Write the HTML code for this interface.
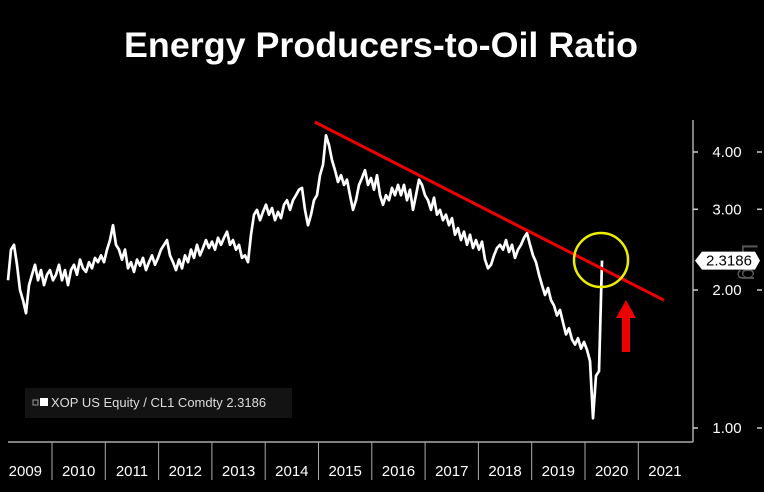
<!DOCTYPE html>
<html><head><meta charset="utf-8"><style>
html,body{margin:0;padding:0;background:#000;}
svg{display:block;font-family:"Liberation Sans",sans-serif;}
</style></head><body>
<svg id="chart" width="764" height="492" viewBox="0 0 764 492">
<rect x="0" y="0" width="764" height="492" fill="#000"/>
<text x="381" y="57" text-anchor="middle" fill="#fff" font-size="35" font-weight="bold" textLength="514" lengthAdjust="spacingAndGlyphs">Energy Producers-to-Oil Ratio</text>
<g id="axes"></g>
<g id="marks"></g>
<g>
<rect x="25" y="388" width="267" height="30" fill="#131313"/>
<rect x="33" y="400" width="5" height="5" fill="none" stroke="#999" stroke-width="1"/>
<rect x="40" y="398" width="8" height="8" fill="#fff"/>
<text x="51" y="407" fill="#ddd" font-size="13">XOP US Equity / CL1 Comdty 2.3186</text>
</g>
</svg>
<script>
const startYear = 2009.174;
const stepYears = 0.05629;
const ratioValues = [2.10,2.45,2.51,2.27,2.00,1.90,1.78,2.05,2.16,2.27,2.10,2.21,2.05,2.16,2.21,2.10,2.16,2.27,2.10,2.21,2.05,2.21,2.27,2.16,2.33,2.23,2.19,2.30,2.23,2.35,2.30,2.38,2.30,2.45,2.57,2.77,2.51,2.45,2.33,2.45,2.23,2.30,2.19,2.33,2.26,2.35,2.21,2.30,2.38,2.27,2.35,2.45,2.51,2.57,2.38,2.30,2.21,2.33,2.23,2.38,2.30,2.45,2.35,2.51,2.38,2.47,2.57,2.47,2.55,2.45,2.60,2.51,2.60,2.68,2.51,2.57,2.45,2.51,2.35,2.38,2.30,2.64,2.92,2.99,2.84,2.96,3.07,2.92,3.02,2.84,2.96,2.87,3.07,3.14,2.99,3.14,3.22,3.31,3.34,2.99,2.77,2.92,3.14,3.22,3.56,3.75,4.35,4.14,3.84,3.65,3.44,3.56,3.39,3.48,3.22,2.99,3.14,3.39,3.51,3.65,3.39,3.51,3.31,3.56,3.22,3.07,3.22,3.14,3.34,3.22,3.39,3.22,3.39,3.14,3.31,2.99,3.22,3.48,3.39,3.22,3.14,2.99,3.18,2.92,2.99,2.84,2.92,2.77,2.87,2.64,2.73,2.57,2.68,2.51,2.64,2.47,2.57,2.45,2.55,2.33,2.23,2.27,2.38,2.47,2.51,2.45,2.57,2.42,2.51,2.35,2.45,2.51,2.60,2.66,2.51,2.38,2.30,2.16,2.05,1.95,2.02,1.90,1.85,1.76,1.81,1.70,1.60,1.65,1.56,1.52,1.57,1.49,1.54,1.48,1.40,1.05,1.30,1.33,2.3186];
const yTicks = [1, 2, 3, 4];
const yTickLabels = ["1.00", "2.00", "3.00", "4.00"];
const years = [2009,2010,2011,2012,2013,2014,2015,2016,2017,2018,2019,2020,2021];
const trendDates = [2014.93, 2021.48];
const trendValues = [4.65, 1.90];
const lastValue = 2.3186;

const NS = "http://www.w3.org/2000/svg";
function X(t){ return 52 + (t - 2010) * 53.3; }
function Y(v){ return 428 - 138 * Math.log2(v); }
function mk(tag, attrs, parent){ const e=document.createElementNS(NS,tag); for(const k in attrs) e.setAttribute(k,attrs[k]); parent.appendChild(e); return e; }
const axes=document.getElementById('axes'), marks=document.getElementById('marks');

let el = mk('line',{x1:8,y1:442,x2:693,y2:442,stroke:'#aaa','stroke-width':1.5},axes);


el = mk('line',{x1:693,y1:120,x2:693,y2:442,stroke:'#aaa','stroke-width':1.5},axes);



years.forEach(function(yr){
  if (yr > 2009) {
    const s = mk('line',{x1:X(yr),y1:442,x2:X(yr),y2:480,stroke:'#aaa','stroke-width':1},axes);
    
    
  }
  const t = mk('text',{x:X(yr+0.5),y:476,fill:'#fff','font-size':15,'text-anchor':'middle'},axes);
  t.textContent = String(yr);
  
  
});

yTicks.forEach(function(v,i){
  const y=Y(v);
  const a = mk('line',{x1:693,y1:y,x2:698,y2:y,stroke:'#ccc','stroke-width':1.5},axes);
  
  
  const b = mk('line',{x1:757,y1:y,x2:762,y2:y,stroke:'#ccc','stroke-width':1.5},axes);
  
  
  const t = mk('text',{x:727,y:y+5,fill:'#fff','font-size':15,'text-anchor':'middle'},axes);
  t.textContent = yTickLabels[i];
  
  
});

const logT = mk('text',{x:0,y:0,fill:'#555','font-size':22,'text-anchor':'middle',transform:'translate(742,262) rotate(90)'},axes);
logT.textContent = 'Log';



let d='';
ratioValues.forEach(function(v,i){ const t=startYear+i*stepYears; d+=(i?'L':'M')+X(t).toFixed(1)+' '+Y(v).toFixed(1); });
el = mk('path',{d:d,fill:'none',stroke:'#fff','stroke-width':2.7,'stroke-linejoin':'round'},marks);



el = mk('line',{x1:X(trendDates[0]),y1:Y(trendValues[0]),x2:X(trendDates[1]),y2:Y(trendValues[1]),stroke:'#e00','stroke-width':3},marks);



const lastX = X(startYear+(ratioValues.length-1)*stepYears);
el = mk('circle',{cx:lastX-1,cy:260,r:27,fill:'none',stroke:'#ee0','stroke-width':2.5},marks);


el = mk('path',{d:'M616 318 L626 300 L636 318 L630 318 L630 352 L622 352 L622 318 Z',fill:'#e00'},marks);



const ly=Y(lastValue);
el = mk('path',{d:'M695 '+ly+' L702 '+(ly-9)+' L755 '+(ly-9)+' L760 '+ly+' L755 '+(ly+9)+' L702 '+(ly+9)+' Z',fill:'#fff'},axes);


el = mk('text',{x:729,y:ly+5,fill:'#000','font-size':15,'text-anchor':'middle'},axes);
el.textContent = lastValue.toFixed(4);


</script>
</body></html>
